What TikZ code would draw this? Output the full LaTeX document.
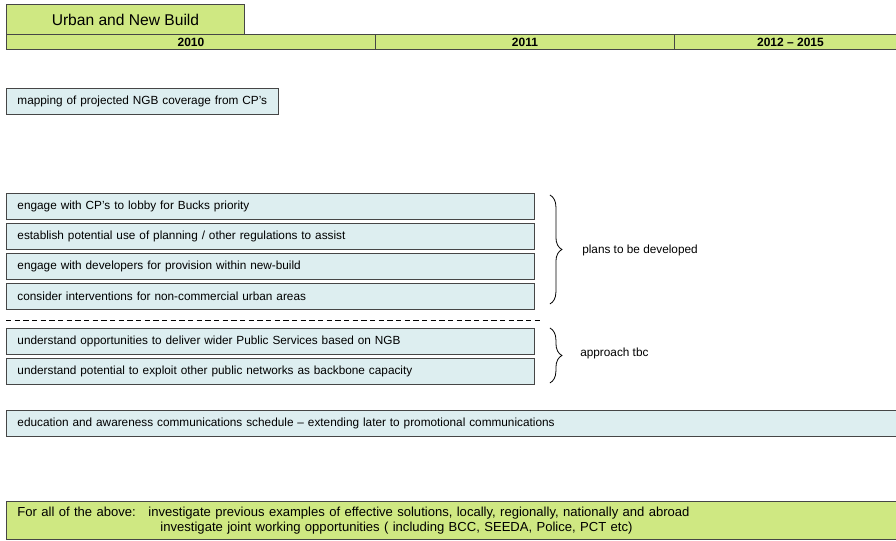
\documentclass[tikz,border=0pt]{standalone}
\usepackage{fontspec}
\setmainfont{Liberation Sans}
\usetikzlibrary{decorations.pathreplacing}
\definecolor{barg}{RGB}{207,232,130}
\definecolor{boxb}{RGB}{221,238,240}
\definecolor{edge}{RGB}{70,70,70}
\begin{document}
\begin{tikzpicture}[x=0.75pt,y=-0.75pt,
    box/.style={draw=edge,line width=0.7pt,fill=boxb,anchor=north west,minimum height=19.5pt,
      inner xsep=8.25pt,inner ysep=0pt,align=left,font=\fontsize{8.85}{10.6}\selectfont},
    yr/.style={draw=edge,line width=0.7pt,fill=barg,anchor=north west,minimum height=11.25pt,
      inner sep=0pt,font=\fontsize{9}{10}\selectfont\bfseries},
    brc/.style={decorate,decoration={brace,amplitude=9pt},line width=0.6pt},
    note/.style={anchor=west,inner sep=0pt,font=\fontsize{8.85}{10.6}\selectfont}]
  \useasboundingbox (0,0) rectangle (896,540);
  % heading and years
  \node[yr,minimum width=178.5pt,minimum height=22.5pt,font=\fontsize{11.7}{13}\selectfont] (t) at (6,4) {Urban and New Build};
  \node[yr,minimum width=276.75pt] (y0) at (6,34) {2010};
  \node[yr,minimum width=224.25pt] (y1) at (375,34) {2011};
  \node[yr,minimum width=174pt] (y2) at (674,34) {2012 -- 2015};
  % tasks
  \node[box,text width=187.5pt] (m) at (6,88) {mapping of projected NGB coverage from CP's};
  \node[box,text width=379.5pt] (a) at (6,193) {engage with CP's to lobby for Bucks priority};
  \node[box,text width=379.5pt] (b) at (6,223) {establish potential use of planning / other regulations to assist};
  \node[box,text width=379.5pt] (c) at (6,253) {engage with developers for provision within new-build};
  \node[box,text width=379.5pt] (d) at (6,283) {consider interventions for non-commercial urban areas};
  \draw[dashed,dash pattern=on 4pt off 2.5pt,line width=0.6pt] (6,320) -- (542,320);
  \node[box,text width=379.5pt] (e) at (6,328) {understand opportunities to deliver wider Public Services based on NGB};
  \node[box,text width=379.5pt] (f) at (6,358) {understand potential to exploit other public networks as backbone capacity};
  \node[box,text width=661.5pt] (g) at (6,410) {education and awareness communications schedule -- extending later to promotional communications};
  % braces
  \draw[brc] ([xshift=11.25pt,yshift=-1.5pt]a.north east) -- ([xshift=11.25pt,yshift=4.5pt]d.south east);
  \node[note] (p) at (582,250) {plans to be developed};
  \draw[brc] ([xshift=11.25pt]e.north east) -- ([xshift=11.25pt,yshift=1.5pt]f.south east);
  \node[note] (q) at (580,353) {approach tbc};
  % common to all
  \node[box,fill=barg,text width=661.5pt,minimum height=28.5pt,font=\fontsize{9.8}{11.25}\selectfont] (h) at (6,501)
    {\makebox[98.25pt][l]{For all of the above:}investigate previous examples of effective solutions, locally, regionally, nationally and abroad\\%
     \hspace*{107.25pt}investigate joint working opportunities ( including BCC, SEEDA, Police, PCT etc)};
\end{tikzpicture}
\end{document}
